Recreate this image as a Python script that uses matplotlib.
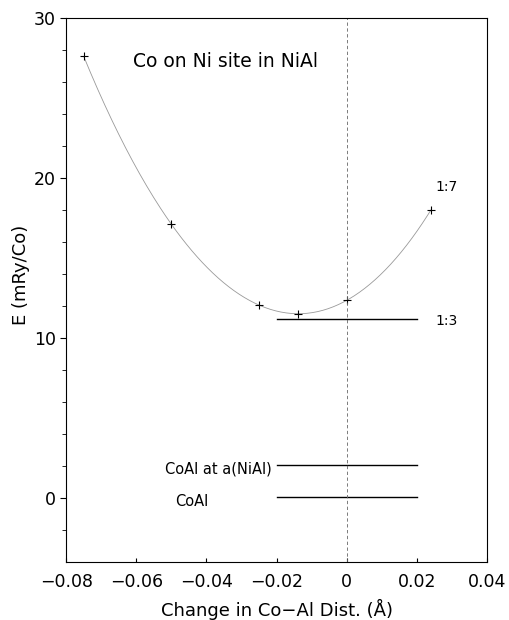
import numpy as np
import matplotlib
matplotlib.use('Agg')
from matplotlib import pyplot as plt

# calculated points (Co on Ni site in NiAl)
dist = [-0.075, -0.050, -0.025, -0.014, 0.000, 0.024]
energy = [27.6, 17.1, 12.05, 11.5, 12.35, 18.0]

# reference levels
level_names = ['1:3', 'CoAl at a(NiAl)', 'CoAl']
level_values = [11.2, 2.05, 0.05]
level_from = -0.02
level_to = 0.02

xticks = [-0.08, -0.06, -0.04, -0.02, 0, 0.02, 0.04]
xticklabels = ['\u22120.08', '\u22120.06', '\u22120.04', '\u22120.02', '0', '0.02', '0.04']
yticks = [0, 10, 20, 30]

fig = plt.figure(figsize=(5.09, 6.20), dpi=100)
ax = fig.add_axes([0.130, 0.094, 0.827, 0.877])

# smooth fit through the points
coef = np.polyfit(dist, energy, 4)
xx = np.linspace(min(dist), max(dist), 200)
ax.plot(xx, np.polyval(coef, xx), color='0.6', lw=0.6)
ax.plot(dist, energy, '+', color='k', ms=6, mew=0.8)

for name, val in zip(level_names, level_values):
    ax.plot([level_from, level_to], [val, val], color='k', lw=1.0)

ax.axvline(0, color='0.4', lw=0.6, ls=(0, (4, 3)))

ax.text(0.0252, 19.4, '1:7', fontsize=10, ha='left', va='center')
ax.text(0.0252, 11.05, '1:3', fontsize=10, ha='left', va='center')
ax.text(-0.0215, 1.8, 'CoAl at a(NiAl)', fontsize=10.5, ha='right', va='center')
ax.text(-0.0489, -0.25, 'CoAl', fontsize=10.5, ha='left', va='center')
ax.text(-0.0609, 27.3, 'Co on Ni site in NiAl', fontsize=13.5, ha='left', va='center')

ax.set_xlim(-0.08, 0.04)
ax.set_ylim(-4, 30)
ax.set_xticks(xticks)
ax.set_xticklabels(xticklabels)
ax.set_yticks(yticks)
ax.set_yticks(np.arange(-2, 30, 2), minor=True)
ax.tick_params(axis='both', labelsize=12.5)
ax.tick_params(axis='x', direction='in', length=3, pad=8)
ax.tick_params(axis='y', which='major', direction='out', length=4)
ax.tick_params(axis='y', which='minor', direction='out', length=3)
ax.set_xlabel('Change in Co\u2212Al Dist. (\u00c5)', fontsize=13, labelpad=6)
ax.set_ylabel('E (mRy/Co)', fontsize=13)
ax.yaxis.set_label_coords(-0.085, 0.528)

plt.savefig('out.png', dpi=100)
